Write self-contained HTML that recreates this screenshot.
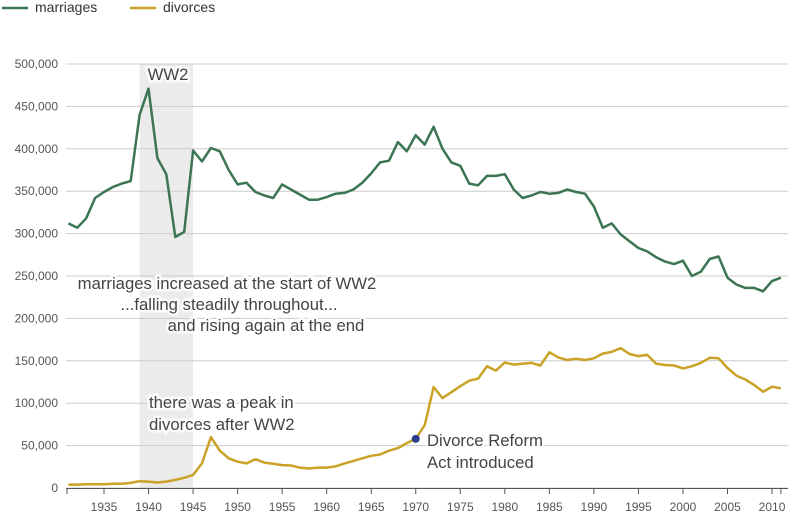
<!DOCTYPE html>
<html><head><meta charset="utf-8"><style>
body{margin:0;background:#fff;font-family:"Liberation Sans",sans-serif}
svg text{font-family:"Liberation Sans",sans-serif}
</style></head><body>
<svg id="c" width="800" height="523"></svg>
<script>
const years=[];for(let y=1931;y<=2011;y++)years.push(y);
const marriages=[312,307,318,342,349,355,359,362,440,471,389,370,296,302,398,385,401,397,375,358,360,349,345,342,358,352,346,340,340,343,347,348,352,360,371,384,386,408,397,416,405,426,400,384,380,359,357,368,368,370,352,342,345,349,347,348,352,349,347,332,307,312,299,291,283,279,272,267,264,268,250,255,270,273,248,240,236,236,232,244,248];
const divorces=[4,4,4.5,4.5,4.5,5,5,6,8,7.5,6.5,7.5,9.5,12,15.5,29,60,44,35,31,29,34,30,28.5,27,26.5,24,23,24,24,25.5,29,32,35,38,39.5,44,47,53,58,74,119,106,113,120,126.5,129,143.5,138.5,148,145.5,146.5,147.5,144.5,160,154,151,152.5,151,153,158.5,160.5,165,158,155.5,157,146.5,145,144.5,141,143.5,147.5,153.5,153,141.5,132.5,128,121.5,113.5,119.5,117.5];
const yTicks=[0,50000,100000,150000,200000,250000,300000,350000,400000,450000,500000];
const xTicks=[1935,1940,1945,1950,1955,1960,1965,1970,1975,1980,1985,1990,1995,2000,2005,2010];
const NS="http://www.w3.org/2000/svg",svg=document.getElementById('c');
const X=y=>104+(y-1935)*8.907, Y=v=>488-v*424/500000;
function el(t,a,p){const e=document.createElementNS(NS,t);for(const k in a)e.setAttribute(k,a[k]);(p||svg).appendChild(e);return e;}
function tx(x,y,s,a,p){const e=el('text',Object.assign({x:x,y:y},a),p);e.textContent=s;return e;}
let b=el('rect',{x:X(1939),y:64,width:X(1945)-X(1939),height:424,fill:'#ebebeb'});

yTicks.forEach(v=>{let g=el('line',{x1:66,x2:788,y1:Y(v),y2:Y(v),stroke:'#ccc','stroke-width':1});

let t=tx(58,Y(v)+4,v.toLocaleString('en-US'),{'text-anchor':'end','font-size':12,fill:'#555'});
});
let ax=el('line',{x1:66,x2:788,y1:488.5,y2:488.5,stroke:'#555'});
years.forEach(y=>{if(y%5==0||y==2011){el('line',{x1:X(y),x2:X(y),y1:488,y2:494,stroke:'#555'});}});
el('line',{x1:67,x2:67,y1:488,y2:494,stroke:'#555'});
xTicks.forEach(y=>{let t=tx(X(y),511,String(y),{'text-anchor':'middle','font-size':12,fill:'#555'});
});
function line(data,mult,col,name){let d=data.map((v,i)=>(i?'L':'M')+X(years[i]).toFixed(1)+','+Y(v*mult).toFixed(1)).join('');
let p=el('path',{d:d,fill:'none',stroke:col,'stroke-width':2.5,'stroke-linejoin':'round'});
}
line(marriages,1000,'#3b7553','marriages-line');
line(divorces,1000,'#c9a227','divorces-line');
function note(x,y,lines,anchor,name){const g=el('g',{});
lines.forEach((s,i)=>{let t=tx(x,y+i*22,s,{'font-size':16.7,fill:'#444','text-anchor':anchor||'start'},g);t.setAttribute('paint-order','stroke');t.setAttribute('stroke','rgba(255,255,255,0.8)');t.setAttribute('stroke-width',5);});}
note(168,80,['WW2'],'middle','ww2-label');
note(227,289,['marriages increased at the start of WW2'],'middle','annotation-start');
note(229,310,['...falling steadily throughout...'],'middle','annotation-during');
note(266,331,['and rising again at the end'],'middle','annotation-end');
note(149,408,['there was a peak in','divorces after WW2'],'start','annotation-divorce-peak');
let dot=el('circle',{cx:X(1970),cy:Y(58000),r:4,fill:'#2d3e8c'});
note(427,446,['Divorce Reform','Act introduced'],'start','annotation-divorce-reform');
function leg(x,col,s,name){const g=el('g',{});
el('line',{x1:x,x2:x+26,y1:8,y2:8,stroke:col,'stroke-width':2.5},g);tx(x+33,12,s,{'font-size':14,fill:'#333'},g);}
leg(2,'#3b7553','marriages','legend-marriages');
leg(130,'#c9a227','divorces','legend-divorces');
</script>
</body></html>
